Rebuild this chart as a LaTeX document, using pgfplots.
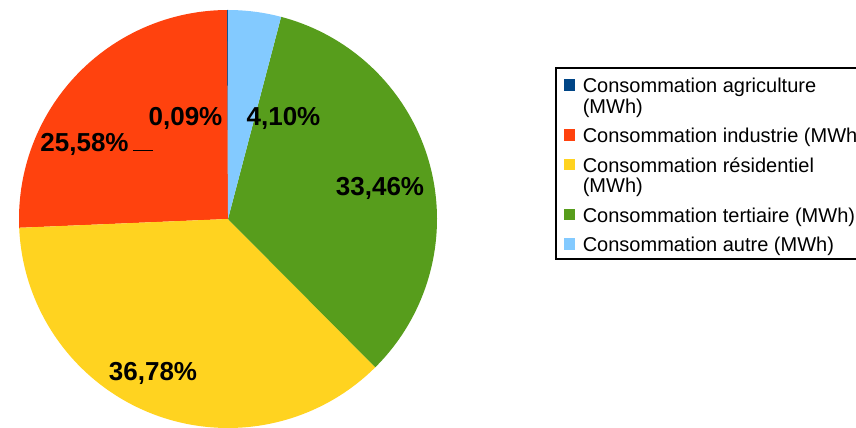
\documentclass[border=0pt]{standalone}
\usepackage{fontspec}
\setmainfont{Liberation Sans}
\usepackage{pgfplots}
\pgfplotsset{compat=1.18}
\definecolor{cAgri}{HTML}{004586}
\definecolor{cInd}{HTML}{FF420E}
\definecolor{cRes}{HTML}{FFD320}
\definecolor{cTer}{HTML}{579D1C}
\definecolor{cAut}{HTML}{83CAFF}
% shares in percent
\def\pAgri{0.09}
\def\pInd{25.58}
\def\pRes{36.78}
\def\pTer{33.46}
\def\pAut{4.10}
\newcommand\Lmain{\rule{0pt}{23.5pt}}
\newcommand\Lcont{\rule{0pt}{14.5pt}}
\begin{document}
\begin{tikzpicture}[x=1pt,y=1pt]
\useasboundingbox (0,0) rectangle (856,428);
\clip (0,0) rectangle (856,428);
\pgfmathsetmacro\aA{90}
\pgfmathsetmacro\aB{\aA+3.6*\pAgri}
\pgfmathsetmacro\aC{\aB+3.6*\pInd}
\pgfmathsetmacro\aD{\aC+3.6*\pRes}
\pgfmathsetmacro\aE{\aD+3.6*\pTer}
\pgfmathsetmacro\aF{\aE+3.6*\pAut}
\def\cx{228}\def\cy{209}\def\R{209}
\begin{axis}[
  at={(0,0)}, anchor=south west,
  scale only axis, width=856pt, height=428pt,
  xmin=0, xmax=856, ymin=0, ymax=428,
  hide axis, clip=false,
  legend cell align=left,
  legend style={at={(axis cs:555,361)}, anchor=north west,
    draw=black, line width=2pt, fill=white,
    font=\fontsize{20}{23}\selectfont,
    inner xsep=6.5pt, inner ysep=1.5pt, row sep=0pt, column sep=0pt,
    nodes={inner sep=0pt, text depth=6pt},
    cells={anchor=base west}},
  legend image code/.code={\fill[#1] (0pt,2pt) rectangle (11.5pt,13.5pt); \path (18.3pt,2pt);},
]
\addplot[fill=cAgri, draw=none, domain=\aA:\aB, samples=5, variable=\t]
  ({\cx+\R*cos(\t)}, {\cy+\R*sin(\t)}) -- (axis cs:\cx,\cy) -- cycle;
\addlegendentry{\Lmain Consommation agriculture}
\addlegendimage{legend image code/.code={\path (0pt,2pt) (18.3pt,2pt);}}
\addlegendentry{\Lcont(MWh)}
\addplot[fill=cInd, draw=none, domain=\aB:\aC, samples=120, variable=\t]
  ({\cx+\R*cos(\t)}, {\cy+\R*sin(\t)}) -- (axis cs:\cx,\cy) -- cycle;
\addlegendentry{\Lmain Consommation industrie (MWh)}
\addplot[fill=cRes, draw=none, domain=\aC:\aD, samples=160, variable=\t]
  ({\cx+\R*cos(\t)}, {\cy+\R*sin(\t)}) -- (axis cs:\cx,\cy) -- cycle;
\addlegendentry{\Lmain Consommation résidentiel}
\addlegendimage{legend image code/.code={\path (0pt,2pt) (18.3pt,2pt);}}
\addlegendentry{\Lcont(MWh)}
\addplot[fill=cTer, draw=none, domain=\aD:\aE, samples=150, variable=\t]
  ({\cx+\R*cos(\t)}, {\cy+\R*sin(\t)}) -- (axis cs:\cx,\cy) -- cycle;
\addlegendentry{\Lmain Consommation tertiaire (MWh)}
\addplot[fill=cAut, draw=none, domain=\aE:\aF, samples=30, variable=\t]
  ({\cx+\R*cos(\t)}, {\cy+\R*sin(\t)}) -- (axis cs:\cx,\cy) -- cycle;
\addlegendentry{\Lmain Consommation autre (MWh)}
\begin{scope}[font=\fontsize{26}{26}\selectfont\bfseries]
\node[anchor=base] at (axis cs:185.5,302) {0,09\%};
\node[anchor=base] at (axis cs:283.5,302) {4,10\%};
\node[anchor=base] at (axis cs:84.5,276) {25,58\%};
\node[anchor=base] at (axis cs:380,232.3) {33,46\%};
\node[anchor=base] at (axis cs:153,47) {36,78\%};
\end{scope}
\draw[black, line width=0.8pt] (axis cs:133,278) -- (axis cs:153,278);
\end{axis}
\end{tikzpicture}
\end{document}
